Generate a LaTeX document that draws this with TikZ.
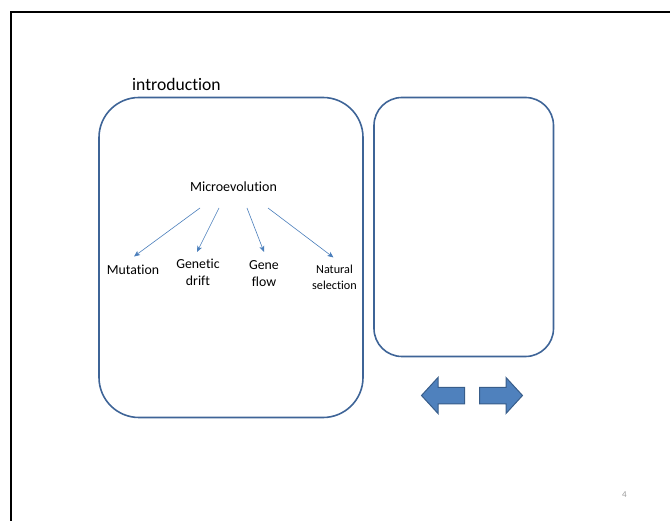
\documentclass[tikz,border=0pt]{standalone}
\usepackage{fontspec}
\setmainfont[Ligatures={NoCommon,NoRequired,NoContextual}]{Carlito}
\usetikzlibrary{arrows.meta}
\definecolor{boxline}{HTML}{3E6497}
\definecolor{thinarrow}{HTML}{4A7EBB}
\definecolor{blockfill}{HTML}{4F81BD}
\definecolor{blockline}{HTML}{385D8A}
\tikzset{
  panel/.style={draw=boxline, line width=1.6pt},
  label/.style={inner sep=0pt, align=center, text=black},
  branch/.style={draw=thinarrow, line width=0.6pt, -{Stealth[length=6pt,width=5pt,inset=1.5pt]}},
  block/.style={fill=blockfill, draw=blockline, line width=1pt, line join=miter},
}
\begin{document}
\begin{tikzpicture}[x=1pt,y=-1pt]
\useasboundingbox (0,0) rectangle (670,521);
% slide frame edges
\draw[line width=2.2pt] (11,521) -- (11,12) -- (670,12);

% title
\node[label, font=\fontsize{17.6}{20}\selectfont, anchor=base west] (title) at (132,91) {introduction};

% panels
\draw[panel, rounded corners=40pt] (99,97.5) rectangle (363,417.5);
\draw[panel, rounded corners=28pt] (374,97.5) rectangle (553.5,356.5);

% concept tree
\node[label, font=\fontsize{14}{16}\selectfont] (micro) at (233.5,187) {Microevolution};
\node[label, font=\fontsize{13.8}{16}\selectfont] (mut) at (133,270) {Mutation};
\node[label, font=\fontsize{13.8}{17}\selectfont] (drift) at (198,272.5) {Genetic\\drift};
\node[label, font=\fontsize{13.8}{17}\selectfont] (flow) at (264,273.5) {Gene\\flow};
\node[label, font=\fontsize{12.2}{16}\selectfont] (nat) at (334.5,277) {Natural\\selection};

\coordinate (s1) at (200,208);
\coordinate (s2) at (219,208);
\coordinate (s3) at (247,208);
\coordinate (s4) at (268,208);
\coordinate (e1) at (134,256.5);
\coordinate (e2) at (197,252);
\coordinate (e3) at (264,252);
\coordinate (e4) at (333.5,257.5);
\draw[branch] (s1) -- (e1);
\draw[branch] (s2) -- (e2);
\draw[branch] (s3) -- (e3);
\draw[branch] (s4) -- (e4);

% navigation block arrows
\draw[block] (421.5,395.5) -- (438,377.5) -- (438,387.5) -- (464.5,387.5) -- (464.5,404) -- (438,404) -- (438,413.5) -- cycle;
\draw[block] (522.5,395.5) -- (506,377.5) -- (506,387.5) -- (479.5,387.5) -- (479.5,404) -- (506,404) -- (506,413.5) -- cycle;

% page number
\node[label, text=gray!80, font=\fontsize{9}{10}\selectfont] (page) at (624.5,495) {4};
\end{tikzpicture}
\end{document}
